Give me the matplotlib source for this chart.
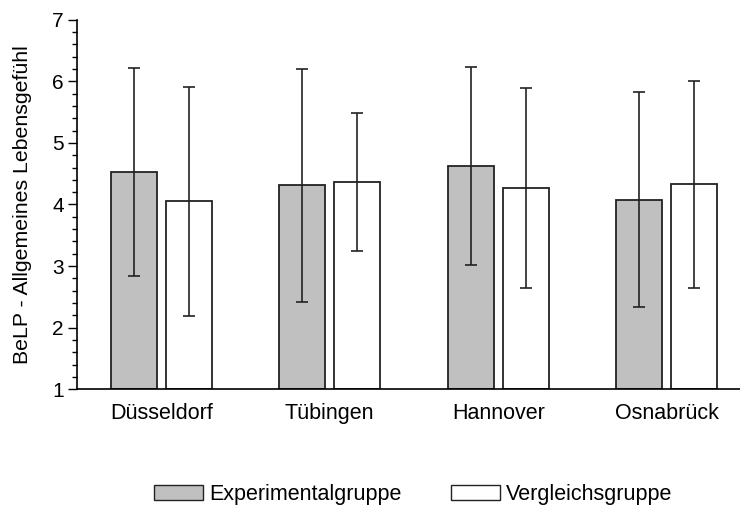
import numpy as np
import matplotlib.pyplot as plt
from matplotlib.patches import Patch

plt.rcParams['font.family'] = ['Liberation Sans', 'DejaVu Sans']

# data
orte = ['Düsseldorf', 'Tübingen', 'Hannover', 'Osnabrück']
exp_mean = [4.52, 4.31, 4.63, 4.08]
exp_upper = [6.21, 6.20, 6.23, 5.83]
exp_lower = [2.83, 2.42, 3.02, 2.34]
vgl_mean = [4.05, 4.36, 4.27, 4.33]
vgl_upper = [5.91, 5.48, 5.90, 6.01]
vgl_lower = [2.19, 3.24, 2.64, 2.64]

exp_mean = np.array(exp_mean)
vgl_mean = np.array(vgl_mean)
exp_err = [exp_mean - np.array(exp_lower), np.array(exp_upper) - exp_mean]
vgl_err = [vgl_mean - np.array(vgl_lower), np.array(vgl_upper) - vgl_mean]

x = np.arange(len(orte))
w = 0.273
off = 0.163

fig = plt.figure(figsize=(7.4, 5.08), dpi=100)
ax = fig.add_axes([0.104, 0.234, 0.896, 0.727])

ax.bar(x - off, exp_mean - 1, w, bottom=1, color='#c0c0c0', edgecolor='#222222', linewidth=1.3, zorder=2)
ax.bar(x + off, vgl_mean - 1, w, bottom=1, color='white', edgecolor='#222222', linewidth=1.3, zorder=2)
ax.errorbar(x - off, exp_mean, yerr=exp_err, fmt='none', ecolor='#222222', elinewidth=1.2, capsize=4.3, capthick=1.2, zorder=3)
ax.errorbar(x + off, vgl_mean, yerr=vgl_err, fmt='none', ecolor='#222222', elinewidth=1.2, capsize=4.3, capthick=1.2, zorder=3)

ax.set_ylim(1, 7)
ax.set_xlim(-0.5, 3.435)
ax.set_yticks(range(1, 8))
ax.set_yticks(np.arange(1, 7.01, 0.2), minor=True)
ax.set_xticks(x)
ax.set_xticklabels(orte, fontsize=15.5)
ax.tick_params(axis='x', length=0, pad=10)
ax.tick_params(axis='y', which='major', length=6.5, width=1, labelsize=15, pad=3)
ax.tick_params(axis='y', which='minor', length=3.6, width=1)
ax.spines['top'].set_visible(False)
ax.spines['right'].set_visible(False)
ax.spines['left'].set_linewidth(1.2)
ax.spines['bottom'].set_linewidth(1.2)
ax.set_ylabel('BeLP - Allgemeines Lebensgefühl', fontsize=15.3)
ax.yaxis.set_label_coords(-0.068, 0.5)

handles = [Patch(facecolor='#c0c0c0', edgecolor='#222222', linewidth=1.0),
           Patch(facecolor='white', edgecolor='#222222', linewidth=1.0)]
fig.legend(handles, ['Experimentalgruppe', 'Vergleichsgruppe'], loc='center',
           bbox_to_anchor=(0.558, 0.027), ncol=2, frameon=False, fontsize=15.5,
           handlelength=2.3, handleheight=0.7, handletextpad=0.25, columnspacing=2.3,
           borderpad=0, borderaxespad=0)

fig.savefig('out.png', dpi=100)
